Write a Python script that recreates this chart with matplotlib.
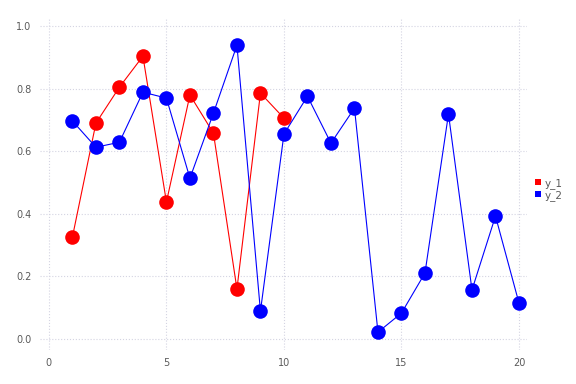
import matplotlib.pyplot as plt
import numpy as np

# Datos
x1 = np.arange(1, 11)
y_1 = [0.326, 0.690, 0.805, 0.904, 0.438, 0.780, 0.658, 0.160, 0.786, 0.706]

x2 = np.arange(1, 21)
y_2 = [0.697, 0.613, 0.629, 0.789, 0.770, 0.514, 0.722, 0.939, 0.089, 0.655,
       0.776, 0.626, 0.738, 0.022, 0.083, 0.211, 0.719, 0.157, 0.393, 0.115]

text_color = '#5a5a5a'
grid_color = '#d4d4e2'

fig = plt.figure(figsize=(5.76, 3.84), dpi=100)
ax = fig.add_axes([0.0694, 0.0885, 0.8455, 0.8646])

ax.plot(x1, y_1, color='red', linewidth=0.8, marker='o', markersize=10.5,
        markeredgewidth=0, label='y_1', zorder=3)
ax.plot(x2, y_2, color='blue', linewidth=0.8, marker='o', markersize=10.5,
        markeredgewidth=0, label='y_2', zorder=3)

# Ejes
ax.set_xlim(-0.38, 20.34)
ax.set_ylim(-0.035, 1.026)
ax.set_xticks([0, 5, 10, 15, 20])
ax.set_yticks([0.0, 0.2, 0.4, 0.6, 0.8, 1.0])
ax.tick_params(length=0, labelsize=7, colors=text_color, pad=6)
for s in ax.spines.values():
    s.set_visible(False)
ax.grid(True, linestyle=':', linewidth=0.8, color=grid_color, zorder=0)

# Leyenda fuera del área
leg = ax.legend(loc='center left', bbox_to_anchor=(1.0, 0.484), frameon=False,
                fontsize=7.5, handlelength=0.7, handleheight=0.7, handletextpad=0.3,
                labelspacing=0.15, borderaxespad=0.3, markerscale=1)
for h in leg.legend_handles:
    h.set_linestyle('')
    h.set_marker('s')
    h.set_markersize(5)
for t in leg.get_texts():
    t.set_color(text_color)

plt.savefig('out.png', dpi=100)
